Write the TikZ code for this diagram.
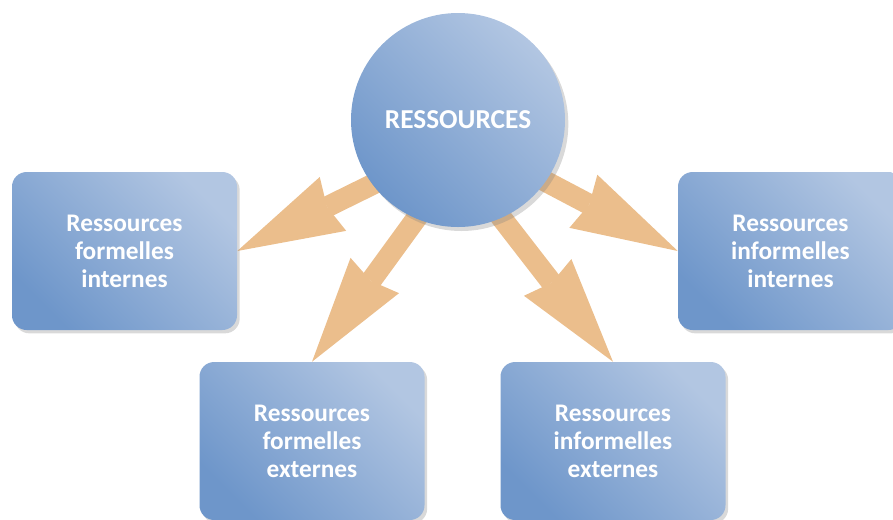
\documentclass[tikz,border=0pt]{standalone}
\usepackage{fontspec}
\setmainfont{Carlito}
\usetikzlibrary{arrows.meta,shadows,backgrounds}
\definecolor{bluedark}{RGB}{110,150,202}
\definecolor{bluelight}{RGB}{178,198,226}
\definecolor{arrowtan}{RGB}{235,190,140}
\begin{document}
\begin{tikzpicture}[x=0.75pt,y=0.75pt,
    box/.style={rectangle, rounded corners=11pt, minimum width=168.75pt, minimum height=118.5pt,
      left color=bluedark, right color=bluelight, shading angle=135,
      drop shadow={shadow xshift=2pt, shadow yshift=-2.5pt, opacity=0.3},
      text=white, align=center, font=\fontsize{19}{21}\selectfont\bfseries},
    hub/.style={circle, minimum size=160.5pt, inner sep=0pt,
      left color=bluedark, right color=bluelight, shading angle=135,
      drop shadow={shadow xshift=2.5pt, shadow yshift=-3pt, opacity=0.3},
      text=white, font=\fontsize{20.5}{24}\selectfont\bfseries},
    flow/.style={draw=arrowtan, line width=15.75pt, shorten <=-20pt,
      -{Stealth[length=80pt, width=45pt, inset=5pt, line width=0pt]}}]
    \useasboundingbox (0,0) rectangle (893,-519);

    % Boxes
    \node[box] (fi) at (124.5,-251) {Ressources\\formelles\\internes};
    \node[box] (ii) at (790.5,-251) {Ressources\\informelles\\internes};
    \node[box] (fe) at (312,-441) {Ressources\\formelles\\externes};
    \node[box] (ie) at (613,-441) {Ressources\\informelles\\externes};

    % Circle
    \node[hub] (res) at (458,-120) {RESSOURCES};

    % Arrows
    \begin{scope}[on background layer]
        \draw[flow] (res.217) -- (fi.east);
        \draw[flow] (res.247) -- (fe.north);
        \draw[flow] (res.294) -- (ie.north);
        \draw[flow] (res.325) -- (ii.west);
    \end{scope}
\end{tikzpicture}
\end{document}
